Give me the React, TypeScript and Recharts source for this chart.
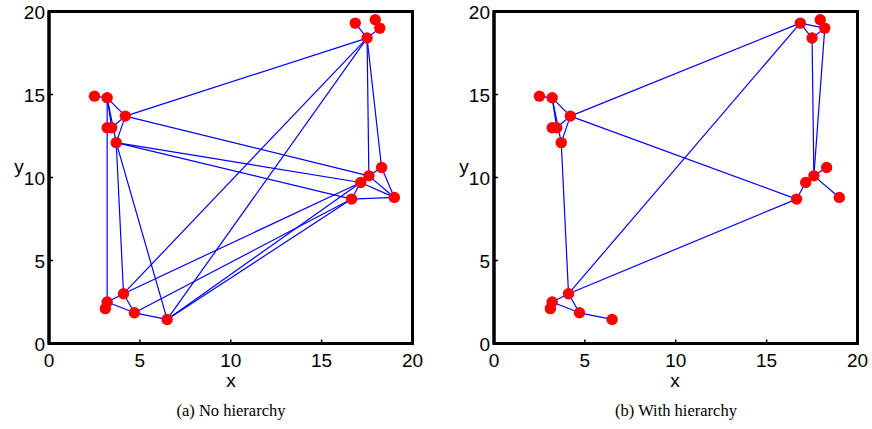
import { ScatterChart, Scatter, XAxis, YAxis, ReferenceArea } from 'recharts';

// node coordinates (same nodes in both panels)
const nodeX = [2.5, 3.2, 4.2, 3.2, 3.45, 3.7, 16.85, 17.95, 18.2, 17.5, 18.3, 17.6, 17.15, 19.0, 16.65, 4.1, 3.2, 3.1, 4.7, 6.5];
const nodeY = [14.9, 14.8, 13.7, 13.0, 13.0, 12.1, 19.3, 19.5, 19.0, 18.4, 10.6, 10.1, 9.7, 8.8, 8.7, 3.0, 2.5, 2.1, 1.85, 1.45];

// edges as index pairs
const edgesNoHierarchy = [
  [0, 1], [1, 2], [1, 4], [1, 5], [2, 4], [2, 5], [3, 4],
  [2, 9], [2, 11], [5, 12], [5, 14],
  [6, 9], [8, 9], [7, 8],
  [9, 15], [9, 19], [9, 11], [9, 10],
  [10, 13], [11, 13], [12, 13], [14, 13], [12, 14], [11, 12], [10, 11],
  [15, 12], [18, 14], [19, 14], [19, 12],
  [15, 16], [15, 18], [16, 18], [18, 19], [16, 17],
  [1, 16], [5, 15], [5, 19],
];

const edgesHierarchy = [
  [0, 1], [1, 2], [1, 4], [1, 5], [2, 4], [2, 5], [3, 4], [5, 15], [2, 6], [2, 14],
  [6, 9], [6, 8], [8, 9], [7, 8], [6, 15], [9, 11], [8, 11],
  [11, 10], [11, 13], [11, 12], [12, 14], [14, 15],
  [15, 16], [16, 17], [16, 18], [18, 19], [15, 18],
];

const ticks = [0, 5, 10, 15, 20];

const points = nodeX.map((x, i) => ({ x, y: nodeY[i] }));

const SANS = '"Liberation Sans", Arial, Helvetica, sans-serif';
const SERIF = '"Liberation Serif", "Times New Roman", serif';
const TICK_LEN = 4;
const frame = { stroke: '#000', strokeWidth: 3 };

const inner = (v: number) => v > 0 && v < 20;

const BottomTick = (p: any) => {
  const v = p.payload.value;
  return (
    <g>
      {inner(v) && <path d={`M${p.x},${p.y}V${p.y - TICK_LEN}`} stroke="#000" strokeWidth={1.5} fill="none" />}
      <text x={p.x} y={p.y + 23} textAnchor="middle" fontFamily={SANS} fontSize={19} fill="#000">{v}</text>
    </g>
  );
};

const LeftTick = (p: any) => {
  const v = p.payload.value;
  return (
    <g>
      {inner(v) && <path d={`M${p.x},${p.y}H${p.x + TICK_LEN}`} stroke="#000" strokeWidth={1.5} fill="none" />}
      <text x={p.x - 4} y={p.y + 7} textAnchor="end" fontFamily={SANS} fontSize={19} fill="#000">{v}</text>
    </g>
  );
};

const TopTick = (p: any) => {
  const v = p.payload.value;
  return inner(v) ? <path d={`M${p.x},${p.y}V${p.y + TICK_LEN}`} stroke="#000" strokeWidth={1.5} fill="none" /> : <g />;
};

const RightTick = (p: any) => {
  const v = p.payload.value;
  return inner(v) ? <path d={`M${p.x},${p.y}H${p.x - TICK_LEN}`} stroke="#000" strokeWidth={1.5} fill="none" /> : <g />;
};

const Dot = (p: any) => <circle cx={p.cx} cy={p.cy} r={5.7} fill="#ff0000" />;
const NoShape = () => <g />;

const Panel = ({ edges, yWidth }: { edges: number[][]; yWidth: number }) => (
  <ScatterChart width={436} height={429} margin={{ top: 11.5, right: 23.5, left: 0, bottom: 0 }}>
    <XAxis type="number" dataKey="x" domain={[0, 20]} ticks={ticks} interval={0} height={85.5} stroke="#000"
      axisLine={frame} tickLine={false} tickSize={0} tickMargin={0} tick={<BottomTick />} />
    <XAxis xAxisId="top" orientation="top" type="number" dataKey="x" domain={[0, 20]} ticks={ticks} interval={0} stroke="#000"
      height={0} axisLine={frame} tickLine={false} tickSize={0} tickMargin={0} tick={<TopTick />} />
    <YAxis type="number" dataKey="y" domain={[0, 20]} ticks={ticks} interval={0} width={yWidth} stroke="#000"
      axisLine={frame} tickLine={false} tickSize={0} tickMargin={0} tick={<LeftTick />} />
    <YAxis yAxisId="right" orientation="right" type="number" dataKey="y" domain={[0, 20]} ticks={ticks} interval={0} stroke="#000"
      width={0} axisLine={frame} tickLine={false} tickSize={0} tickMargin={0} tick={<RightTick />} />
    <ReferenceArea x1={0} x2={20} y1={0} y2={20} fill="none" stroke="#000" strokeWidth={3} ifOverflow="visible" />
    {edges.map(([a, b], i) => (
      <Scatter key={`e${i}`} data={[points[a], points[b]]} line={{ stroke: '#0000ff', strokeWidth: 1.2 }}
        shape={NoShape} isAnimationActive={false} />
    ))}
    <Scatter data={points} shape={Dot} isAnimationActive={false} />
  </ScatterChart>
);

export default function App() {
  return (
    <div style={{ position: 'absolute', left: 0, top: 0, width: 872, height: 429, background: '#fff' }}>
      <div style={{ position: 'absolute', left: 0, top: 0 }}>
        <Panel edges={edgesNoHierarchy} yWidth={49} />
      </div>
      <div style={{ position: 'absolute', left: 445, top: 0 }}>
        <Panel edges={edgesHierarchy} yWidth={49} />
      </div>
      <svg width={872} height={429} style={{ position: 'absolute', left: 0, top: 0, pointerEvents: 'none' }}>
        <text x={19} y={173} textAnchor="middle" fontFamily={SANS} fontSize={19}>y</text>
        <text x={464} y={173} textAnchor="middle" fontFamily={SANS} fontSize={19}>y</text>
        <text x={231} y={387} textAnchor="middle" fontFamily={SANS} fontSize={19}>x</text>
        <text x={675} y={387} textAnchor="middle" fontFamily={SANS} fontSize={19}>x</text>
        <text x={231} y={416} textAnchor="middle" fontFamily={SERIF} fontSize={16.5}>(a)  No hierarchy</text>
        <text x={676} y={416} textAnchor="middle" fontFamily={SERIF} fontSize={16.5}>(b)  With hierarchy</text>
      </svg>
    </div>
  );
}
